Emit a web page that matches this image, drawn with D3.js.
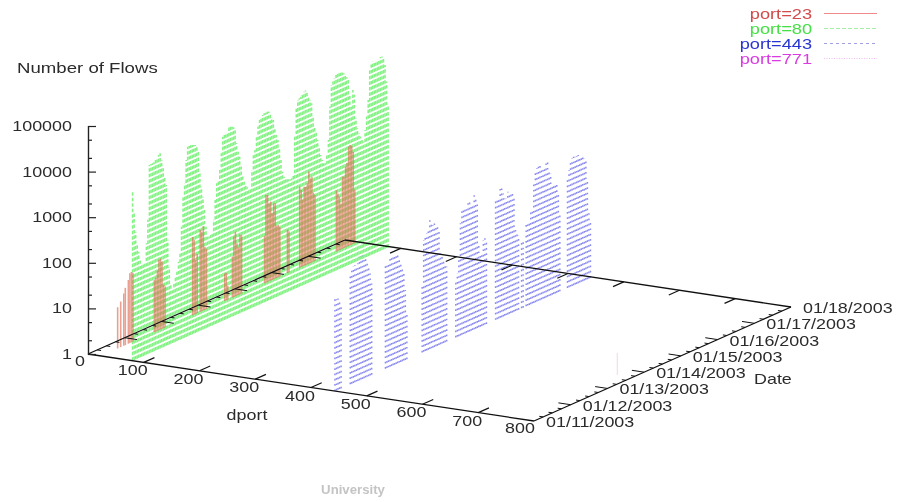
<!DOCTYPE html>
<html><head><meta charset="utf-8">
<script src="https://cdn.jsdelivr.net/npm/d3@7/dist/d3.min.js"></script>
<style>
html,body{margin:0;padding:0;background:#fff;width:898px;height:502px;overflow:hidden}
svg{display:block;filter:blur(.6px)}
text{font-family:"Liberation Sans",Arial,sans-serif;font-size:14px;fill:#2b2b2b}
</style></head><body>
<svg id="c" width="898" height="502"></svg>
<script>
// Hourly flow counts, one row per day, starting 01/11/2003 00:00. 0 = no flows recorded.
const port23Flows = [
0,0,0,0,0,0,0,0,0,0,0,8,0,10,0,14,18,0,25,34,35,32,0,0,
0,0,0,0,0,0,0,0,0,0,0,14,15,21,35,36,30,9,8,0,0,0,0,0,
0,0,0,0,0,0,0,0,0,0,0,0,52,43,15,20,0,63,55,71,24,21,0,0,
0,0,0,0,0,0,0,0,0,4,4,2,0,0,8,21,26,14,11,20,19,0,0,0,
0,0,0,0,0,0,0,0,0,0,0,11,84,81,51,54,29,46,45,14,14,12,0,0,
0,0,9,8,0,0,0,0,0,0,60,49,29,54,52,60,105,72,75,32,28,0,0,0,
0,0,0,0,0,0,0,0,0,0,22,18,15,10,38,37,59,68,151,159,146,105,15,0];
const port80Flows = [
5100,1650,630,340,215,135,110,110,113,275,870,13400,13700,13700,13900,15000,16700,18100,19100,13100,8400,5300,3370,205,
50,21,16,20,27,33,53,78,290,1280,2400,7600,14400,14400,14400,14100,13700,13200,11700,9600,2860,1400,815,405,
168,98,95,100,105,200,525,1180,1350,2150,4850,10800,11400,12000,12600,15200,15100,14600,13700,12600,5700,3600,2700,1590,
1000,690,565,485,447,435,1050,2170,2700,5100,8200,11000,12200,13300,14000,13900,14200,13800,11800,9600,8100,5200,3560,2680,
1700,910,485,365,325,300,288,280,285,325,2180,9550,12900,13600,14200,15000,17100,17500,15900,12000,9800,8000,3970,2300,
1730,1100,700,480,360,295,285,420,865,4500,13000,14900,17000,19400,19600,19800,19600,19000,17800,15800,13600,11500,5200,2770,
6250,4700,1400,810,610,500,407,362,625,1200,2680,11800,15900,16700,16200,16300,16300,16300,17700,17600,15500,10700,4500,1230];
const port443Flows = [
107,100,100,90,68,0,0,0,0,0,246,337,365,372,358,380,560,537,517,500,408,335,230,173,
101,0,0,0,0,0,0,0,0,187,180,208,257,270,262,252,244,236,209,158,118,82,34,10,
0,0,0,0,0,0,0,0,0,28,282,322,370,457,675,550,490,513,457,440,303,98,80,60,
54,44,0,0,0,0,0,18,25,55,288,540,573,553,578,722,695,620,600,885,722,540,69,41,
39,74,78,69,0,0,0,0,0,426,447,468,692,664,500,375,364,490,475,420,408,364,60,49,
43,0,32,28,0,66,69,73,107,112,455,725,834,870,1000,755,790,705,870,915,585,478,255,245,
260,230,146,51,0,0,0,0,233,373,597,630,660,635,635,645,595,605,587,480,425,149,29,18];
const port771Hours = [65];
const port771Flows = [3];

const dportTicks = [0,100,200,300,400,500,600,700,800];
const flowTicks = [1,10,100,1000,10000,100000];
const flowMinorTicks = [2,5,20,50,200,500,2000,5000,20000,50000];
const dateLabels = ["01/11/2003","01/12/2003","01/13/2003","01/14/2003","01/15/2003","01/16/2003","01/17/2003","01/18/2003"];
const legendNames = ["port=23","port=80","port=443","port=771"];
const legendTextColors = ["#d24a4a","#45e045","#2a35d0","#d83ce0"];
const legendLineColors = ["#ee8a8a","#a5eea5","#a0a0e0","#f0bdf0"];
const legendDashes = [null,"4 2","3 3","1 1.5"];

const t0 = Date.UTC(2003,0,11), HOUR = 3600e3;
const dateTicks = d3.range(8).map(i=>new Date(t0+i*24*HOUR));

const portX = d3.scaleLinear().domain([0,800]).range([88,534]);
const portY = d3.scaleLinear().domain([0,800]).range([354,421]);
const dateX = d3.scaleUtc().domain([dateTicks[0],dateTicks[7]]).range([0,257]);
const dateY = d3.scaleUtc().domain([dateTicks[0],dateTicks[7]]).range([0,-114]);
const flowY = d3.scaleLog().domain([1,100000]).range([354,126]);

const P = (port,date,flows=1)=>[portX(port)+dateX(date), portY(port)+dateY(date)+flowY(flows)-flowY(1)];
const svg = d3.select("#c");

function label(x,y,str,anchor="start",color=null,sx=1.28){
  const t = svg.append("text").attr("transform",`translate(${x},${y}) scale(${sx},1)`)
    .attr("text-anchor",anchor).text(str);
  if(color) t.style("fill",color);
  return t;
}

function impulses(port,hours,values,color,width,dash,opacity){
  const pts = hours.map((h,i)=>({h,v:values[i]})).filter(d=>d.v>0);
  svg.append("g").attr("opacity",opacity||null).selectAll("line").data(pts).join("line")
    .attr("x1",d=>P(port,new Date(t0+d.h*HOUR))[0])
    .attr("y1",d=>P(port,new Date(t0+d.h*HOUR))[1])
    .attr("x2",d=>P(port,new Date(t0+d.h*HOUR),d.v)[0])
    .attr("y2",d=>P(port,new Date(t0+d.h*HOUR),d.v)[1])
    .attr("stroke",color).attr("stroke-width",width).attr("stroke-dasharray",dash);
}
const hrs = d3.range(168);
impulses(443,hrs,port443Flows,"#8c8cf0",1.5,"1.7 3.6");
impulses(771,port771Hours,port771Flows,"#f0a8c8",1,"1 1");
impulses(80,hrs,port80Flows,"#84f284",1.55,"3.4 2.1");
impulses(23,hrs,port23Flows,"rgb(222,112,88)",1.6,null,.66);

// base frame
const frame = svg.append("g").attr("stroke","#111").attr("fill","none");
function seg(a,b,w=1.3){ frame.append("line").attr("x1",a[0]).attr("y1",a[1]).attr("x2",b[0]).attr("y2",b[1]).attr("stroke-width",w); }
const d0=dateTicks[0], d7=dateTicks[7];
seg(P(0,d0),P(800,d0)); seg(P(800,d0),P(800,d7)); seg(P(800,d7),P(0,d7)); seg(P(0,d7),P(0,d0));

// dport ticks on the front and back edges
dportTicks.slice(1,-1).forEach(p=>{
  const q=new Date(t0+7*HOUR), r=new Date(d7.getTime()-7*HOUR);
  seg(P(p,d0),P(p,q),1.1); seg(P(p,d7),P(p,r),1.1);
  const m=P(p,d0); label(m[0]-11,m[1]+13,String(p),"middle");
});
{const m=P(0,d0); label(m[0]-8,m[1]+12,"0","middle");}
{const m=P(800,d0); label(m[0]-14,m[1]+12,"800","middle");}

// date ticks on both side edges
d3.range(0,7.01,.25).forEach(f=>{
  const d=new Date(t0+f*24*HOUR), major=Number.isInteger(f), len=major?22:7;
  if(f>0&&f<7){ seg(P(0,d),P(len,d),1); seg(P(800,d),P(800-len,d),1); }
});
dateTicks.forEach((d,i)=>{ const m=P(800,d); label(m[0]+12,m[1]+6,dateLabels[i]); });

// vertical axis
const axisMajor = d3.axisRight(flowY).tickValues(flowTicks).tickSize(8).tickFormat("");
const axisMinor = d3.axisRight(flowY).tickValues(flowMinorTicks).tickSize(4).tickFormat("");
const ga = svg.append("g").attr("transform","translate(88,0)").call(axisMajor);
const gm = svg.append("g").attr("transform","translate(88,0)").call(axisMinor);
[ga,gm].forEach(g=>{g.selectAll("path,line").attr("stroke","#222").attr("stroke-width",1.2);});
flowTicks.forEach(v=>label(72,flowY(v)+5,String(v),"end"));

label(17,73,"Number of Flows","start",null,1.33);
label(247,420,"dport","middle");
label(754,384,"Date");
label(353,494,"University","middle","#c4c4c4",1.1).style("font-weight","bold").style("font-size","12px");

// legend
legendNames.forEach((n,i)=>{
  const y=14+i*15;
  label(812,y+5,n,"end",legendTextColors[i],1.3);
  svg.append("line").attr("x1",824).attr("x2",877).attr("y1",y-.5).attr("y2",y-.5)
    .attr("stroke",legendLineColors[i]).attr("stroke-width",1).attr("stroke-dasharray",legendDashes[i]);
});
</script>
</body></html>
